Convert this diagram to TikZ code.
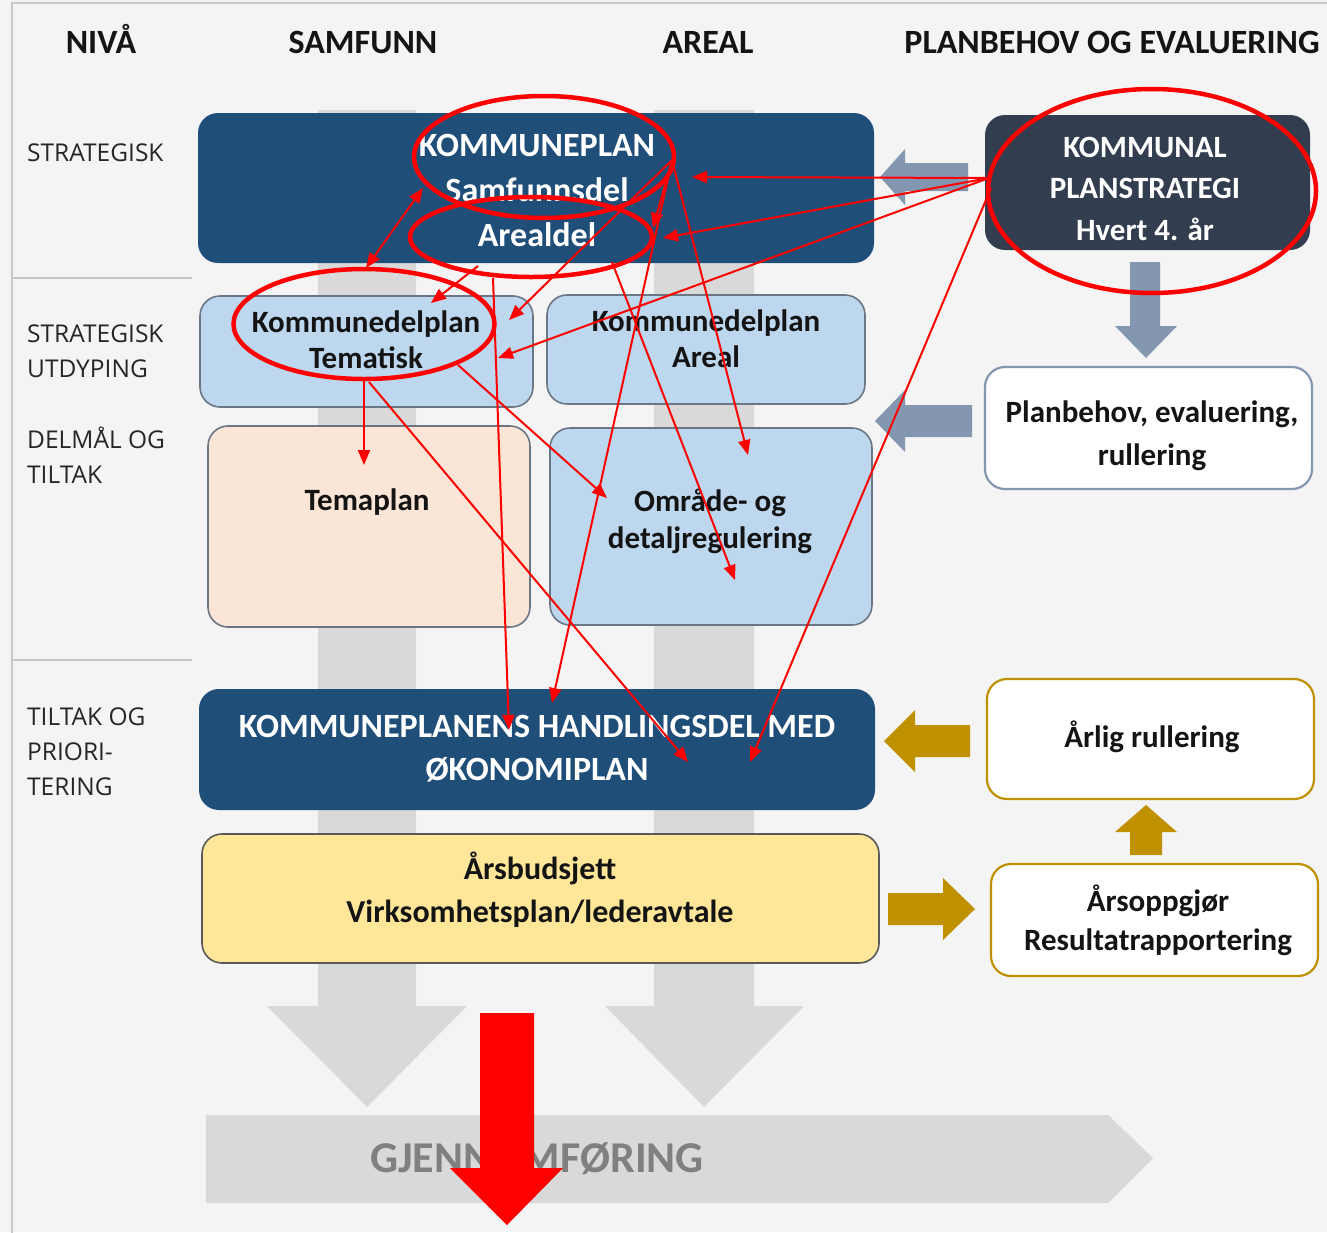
\documentclass[tikz,border=0pt]{standalone}
\usepackage{fontspec}
\setmainfont{Carlito}
\newfontfamily\labfont{Open Sans}
\usetikzlibrary{arrows.meta,shapes.geometric}
\definecolor{bgc}{HTML}{F4F4F4}
\definecolor{framec}{HTML}{C8C8C8}
\definecolor{dblue}{HTML}{1F4E79}
\definecolor{slate}{HTML}{323E4F}
\definecolor{lblue}{HTML}{BDD7EE}
\definecolor{peach}{HTML}{FBE5D6}
\definecolor{lyellow}{HTML}{FFE699}
\definecolor{gold}{HTML}{BF9000}
\definecolor{bgray}{HTML}{8497B0}
\definecolor{band}{HTML}{D9D9D9}
\definecolor{edgec}{HTML}{6B7685}
\definecolor{txtc}{HTML}{141414}
\definecolor{redc}{HTML}{FF0000}
\begin{document}
\begin{tikzpicture}[x=1pt,y=-1pt,
  boxbase/.style={rounded corners=20pt, inner sep=0pt, line width=1.6pt},
  darkbox/.style={boxbase, fill=dblue},
  slatebox/.style={boxbase, fill=slate},
  bluebox/.style={boxbase, fill=lblue, draw=edgec},
  peachbox/.style={boxbase, fill=peach, draw=edgec},
  yelbox/.style={boxbase, fill=lyellow, draw=black!65},
  whitebox/.style={boxbase, fill=white, draw=bgray, line width=2.2pt},
  goldbox/.style={boxbase, fill=white, draw=gold, line width=2.2pt},
  hdr/.style={font=\fontsize{34}{40}\selectfont\bfseries, text=txtc, inner sep=0pt},
  lbl/.style={font=\labfont\fontsize{24.5}{35}\selectfont, text=black!85, align=left, inner sep=0pt},
  btxt/.style={font=\fontsize{31}{36}\selectfont\bfseries, text=txtc, align=center, inner sep=0pt},
  wtxt/.style={font=\fontsize{34}{45}\selectfont\bfseries, text=white, align=center, inner sep=0pt},
  redarr/.style={draw=redc, line width=2pt, -{Triangle[length=15pt,width=12pt]}},
  redell/.style={draw=redc, line width=4.5pt, ellipse, inner sep=0pt}
]
\useasboundingbox (0,0) rectangle (1327,1232);
\fill[bgc] (0,0) rectangle (1327,1232);
\draw[framec, line width=1.5pt] (12,1240) -- (12,3) -- (1340,3);

% separators
\draw[framec, line width=1.5pt] (12,278) -- (192,278);
\draw[framec, line width=1.5pt] (12,660) -- (192,660);

% gray background arrows
\fill[band] (318,110) -- (416,110) -- (416,1006) -- (467,1006) -- (367,1107) -- (267,1006) -- (318,1006) -- cycle;
\fill[band] (654,110) -- (754,110) -- (754,1006) -- (804,1006) -- (704,1107) -- (605,1006) -- (654,1006) -- cycle;
\fill[band] (206,1115) -- (1108,1115) -- (1153,1158) -- (1108,1203) -- (206,1203) -- cycle;
\node[font=\fontsize{44}{48}\selectfont\bfseries, text=black!50, anchor=base, inner sep=0pt] (gjen) at (537,1172) {GJENNOMFØRING};

% headers
\node[hdr, anchor=base] (hniva) at (101,53) {NIVÅ};
\node[hdr, anchor=base] (hsam) at (363,53) {SAMFUNN};
\node[hdr, anchor=base] (hareal) at (708,53) {AREAL};
\node[hdr, anchor=base] (hplan) at (1112,53) {PLANBEHOV OG EVALUERING};

% row labels
\node[lbl, anchor=west] (r1) at (27,153) {STRATEGISK};
\node[lbl, anchor=west] (r2) at (27,351.5) {STRATEGISK\\UTDYPING};
\node[lbl, anchor=west] (r3) at (27,455) {DELMÅL OG\\TILTAK};
\node[lbl, anchor=west] (r4) at (27,752) {TILTAK OG\\PRIORI-\\TERING};

% boxes
\node[darkbox, minimum width=676pt, minimum height=150pt] (kp) at (536,188) {};
\node[slatebox, minimum width=325pt, minimum height=135pt] (kps) at (1147.5,182.5) {};
\node[bluebox, minimum width=333pt, minimum height=111pt] (kdt) at (366.5,351.5) {};
\node[bluebox, minimum width=318pt, minimum height=109pt] (kda) at (706,349.5) {};
\node[peachbox, minimum width=322pt, minimum height=201pt] (tema) at (369,526.5) {};
\node[bluebox, minimum width=322pt, minimum height=197pt] (omr) at (711,526.5) {};
\node[whitebox, minimum width=327pt, minimum height=122pt] (plb) at (1148.5,428) {};
\node[darkbox, minimum width=676pt, minimum height=121pt] (hd) at (537,749.5) {};
\node[yelbox, minimum width=677pt, minimum height=129pt] (bud) at (540.5,898.5) {};
\node[goldbox, minimum width=327pt, minimum height=120pt] (arl) at (1150.5,739) {};
\node[goldbox, minimum width=327pt, minimum height=112pt] (ars) at (1154.5,920) {};

% box texts
\node[wtxt] (tkp) at (537,190) {KOMMUNEPLAN\\Samfunnsdel\\Arealdel};
\node[wtxt, font=\fontsize{31}{41.5}\selectfont\bfseries] (tkps) at (1145,188.5) {KOMMUNAL\\PLANSTRATEGI\\Hvert 4. år};
\node[btxt] (tkdt) at (366,340) {Kommunedelplan\\Tematisk};
\node[btxt] (tkda) at (706,339) {Kommunedelplan\\Areal};
\node[btxt, anchor=base] (ttema) at (367,510) {Temaplan};
\node[btxt, font=\fontsize{31}{37}\selectfont\bfseries] (tomr) at (710,521) {Område- og\\detaljregulering};
\node[btxt, font=\fontsize{31}{43}\selectfont\bfseries] (tplb) at (1152,436) {Planbehov, evaluering,\\rullering};
\node[wtxt, font=\fontsize{34}{43}\selectfont\bfseries] (thd) at (537,749) {KOMMUNEPLANENS HANDLINGSDEL MED\\ØKONOMIPLAN};
\node[btxt, font=\fontsize{32}{43}\selectfont\bfseries] (tbud) at (540,890) {Årsbudsjett\\Virksomhetsplan/lederavtale};
\node[btxt, anchor=base] (tarl) at (1152,747) {Årlig rullering};
\node[btxt, font=\fontsize{31}{39}\selectfont\bfseries] (tars) at (1158,920) {Årsoppgjør\\Resultatrapportering};

% block arrows
\fill[bgray] (880,177) -- (905,149) -- (905,163) -- (968,163) -- (968,191) -- (905,191) -- (905,205) -- cycle;
\fill[bgray] (1130,262) -- (1160,262) -- (1160,326) -- (1177,326) -- (1146,358) -- (1115,326) -- (1130,326) -- cycle;
\fill[bgray] (875,421) -- (905,390) -- (905,405) -- (972,405) -- (972,437) -- (905,437) -- (905,452) -- cycle;
\fill[gold] (884,741) -- (915,710) -- (915,725) -- (970,725) -- (970,757) -- (915,757) -- (915,772) -- cycle;
\fill[gold] (888,893) -- (943,893) -- (943,878) -- (975,909) -- (943,940) -- (943,925) -- (888,925) -- cycle;
\fill[gold] (1130,855) -- (1130,832) -- (1115,832) -- (1146,805) -- (1177,832) -- (1162,832) -- (1162,855) -- cycle;

% red ellipses
\node[redell, minimum width=260pt, minimum height=122pt] (e1) at (544,157) {};
\node[redell, minimum width=242pt, minimum height=80pt] (e2) at (531,237) {};
\node[redell, minimum width=261pt, minimum height=110pt] (e3) at (364,324) {};
\node[redell, minimum width=328pt, minimum height=204pt] (e4) at (1152,191) {};

% named ends
\coordinate (a) at (672,160);
\coordinate (k) at (989,178);
\coordinate (k2) at (991,188);
\coordinate (pKP) at (692,177);
\coordinate (pAD) at (663,238);
\coordinate (pKT) at (498,358);
\coordinate (pHD1) at (750,762);
\coordinate (pKT2) at (509,320);
\coordinate (pAD2) at (653,228);
\coordinate (pOM1) at (748,455);
\coordinate (pHD2) at (552,703);
\coordinate (dA) at (366,268);
\coordinate (dB) at (423,188);
\coordinate (adA) at (478,266);
\coordinate (pKT3) at (431,303);
\coordinate (adB) at (493,278);
\coordinate (pHD3) at (509,730);
\coordinate (adC) at (612,262);
\coordinate (pOM2) at (735,580);
\coordinate (ktA) at (458,365);
\coordinate (pOM3) at (607,498);
\coordinate (ktB) at (364,380);
\coordinate (pTE) at (364,465);
\coordinate (ktC) at (369,382);
\coordinate (pHD4) at (688,762);

% red arrows
\draw[redarr] (k) -- (pKP);
\draw[redarr] (k) -- (pAD);
\draw[redarr] (k) -- (pKT);
\draw[redarr] (k2) -- (pHD1);
\draw[redarr] (a) -- (pKT2);
\draw[redarr] (a) -- (pAD2);
\draw[redarr] (a) -- (pOM1);
\draw[redarr] (a) -- (pHD2);
\draw[redarr, {Triangle[length=15pt,width=12pt]}-{Triangle[length=15pt,width=12pt]}] (dA) -- (dB);
\draw[redarr] (adA) -- (pKT3);
\draw[redarr] (adB) -- (pHD3);
\draw[redarr] (adC) -- (pOM2);
\draw[redarr] (ktA) -- (pOM3);
\draw[redarr] (ktB) -- (pTE);
\draw[redarr] (ktC) -- (pHD4);

% big red arrow
\fill[redc] (480,1013) -- (534,1013) -- (534,1168) -- (563,1168) -- (507,1225) -- (450,1168) -- (480,1168) -- cycle;
\end{tikzpicture}
\end{document}
